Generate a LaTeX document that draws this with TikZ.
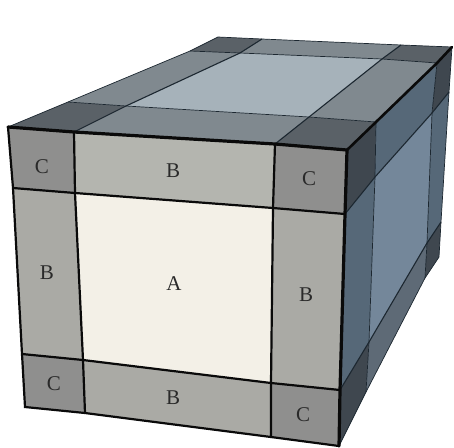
\documentclass[tikz,border=0pt]{standalone}
\usepackage{fontspec}
\setmainfont{Liberation Serif}
\definecolor{ca}{HTML}{F3F0E7}
\definecolor{fb}{HTML}{AAAAA5}
\definecolor{fbt}{HTML}{B4B5AF}
\definecolor{fc}{HTML}{8F8F8E}
\definecolor{ta}{HTML}{A6B2BA}
\definecolor{tb}{HTML}{80898F}
\definecolor{tc}{HTML}{5A6167}
\definecolor{ra}{HTML}{74879A}
\definecolor{rb}{HTML}{566878}
\definecolor{rbb}{HTML}{5E6A76}
\definecolor{rc}{HTML}{3F474F}
\definecolor{ink}{HTML}{0A0A0A}
\definecolor{inkb}{HTML}{1C2730}
\definecolor{txt}{HTML}{2A2A2A}
\tikzset{
  lab/.style={font=\fontsize{21}{21}\selectfont,text=txt,inner sep=0pt},
  heavy/.style={draw=ink,line width=3.2pt,line join=round,line cap=round},
  mid/.style={draw=ink,line width=2.2pt,line cap=round},
  fine/.style={draw=inkb,line width=1.1pt},
  hair/.style={draw=inkb,line width=.7pt}
}
\begin{document}
\begin{tikzpicture}[x=1pt,y=-1pt]
\useasboundingbox (0,0) rectangle (454,447);
% front face
\coordinate (TL) at (8,127); \coordinate (T1) at (74,132); \coordinate (T2) at (275,144); \coordinate (TR) at (347,150);
\coordinate (L1) at (13,188); \coordinate (A1) at (75,193); \coordinate (A2) at (273,208); \coordinate (R1) at (345,214);
\coordinate (L2) at (22,354); \coordinate (A3) at (83,360); \coordinate (A4) at (271,383); \coordinate (R2) at (340,390);
\coordinate (BL) at (25,407); \coordinate (B1) at (85,413); \coordinate (B2) at (271,437); \coordinate (BR) at (339,446);
% top face
\coordinate (P1) at (68,102); \coordinate (P2) at (190,51); \coordinate (AP) at (218,37);
\coordinate (Q1) at (126,106); \coordinate (Q2) at (240,53); \coordinate (Q3) at (262,39);
\coordinate (Q4) at (309,117); \coordinate (Q5) at (382,59); \coordinate (Q6) at (401,45);
\coordinate (S1) at (376,122); \coordinate (S2) at (437,63); \coordinate (BK) at (452,47);
% right face
\coordinate (U1) at (375,177); \coordinate (U2) at (432,113); \coordinate (U3) at (449,92);
\coordinate (V1) at (369,342); \coordinate (V2) at (427,243); \coordinate (V3) at (441,222);
\coordinate (W1) at (366,392); \coordinate (W2) at (425,278); \coordinate (W3) at (439,257);
% top fills
\fill[tc] (TL)--(P1)--(Q1)--(T1)--cycle;
\fill[tb] (P1)--(P2)--(Q2)--(Q1)--cycle;
\fill[tc] (P2)--(AP)--(Q3)--(Q2)--cycle;
\fill[tb] (T1)--(Q1)--(Q4)--(T2)--cycle;
\fill[ta] (Q1)--(Q2)--(Q5)--(Q4)--cycle;
\fill[tb] (Q2)--(Q3)--(Q6)--(Q5)--cycle;
\fill[tc] (T2)--(Q4)--(S1)--(TR)--cycle;
\fill[tb] (Q4)--(Q5)--(S2)--(S1)--cycle;
\fill[tc] (Q5)--(Q6)--(BK)--(S2)--cycle;
% right fills
\fill[rc] (TR)--(S1)--(U1)--(R1)--cycle;
\fill[rb] (S1)--(S2)--(U2)--(U1)--cycle;
\fill[rc] (S2)--(BK)--(U3)--(U2)--cycle;
\fill[rb] (R1)--(U1)--(V1)--(R2)--cycle;
\fill[ra] (U1)--(U2)--(V2)--(V1)--cycle;
\fill[rb] (U2)--(U3)--(V3)--(V2)--cycle;
\fill[rc] (R2)--(V1)--(W1)--(BR)--cycle;
\fill[rbb] (V1)--(V2)--(W2)--(W1)--cycle;
\fill[rc] (V2)--(V3)--(W3)--(W2)--cycle;
% front fills
\fill[fc] (TL)--(T1)--(A1)--(L1)--cycle;
\fill[fbt] (T1)--(T2)--(A2)--(A1)--cycle;
\fill[fc] (T2)--(TR)--(R1)--(A2)--cycle;
\fill[fb] (L1)--(A1)--(A3)--(L2)--cycle;
\fill[ca] (A1)--(A2)--(A4)--(A3)--cycle;
\fill[fb] (A2)--(R1)--(R2)--(A4)--cycle;
\fill[fc] (L2)--(A3)--(B1)--(BL)--cycle;
\fill[fb] (A3)--(A4)--(B2)--(B1)--cycle;
\fill[fc] (A4)--(R2)--(BR)--(B2)--cycle;
% top lines
\draw[fine] (T1)--(Q1)--(Q2)--(Q3);
\draw[fine] (T2)--(Q4)--(Q5)--(Q6);
\draw[hair] (P1)--(Q1)--(Q4)--(S1);
\draw[hair] (P2)--(Q2)--(Q5)--(S2);
\draw[hair] (TL)--(P1)--(P2)--(AP)--(Q3)--(Q6)--(BK);
% right lines
\draw[fine] (R1)--(U1)--(U2)--(U3);
\draw[fine] (R2)--(V1)--(V2)--(V3);
\draw[hair] (S1)--(U1)--(V1)--(W1);
\draw[hair] (S2)--(U2)--(V2)--(W2);
\draw[hair] (BK)--(U3)--(V3)--(W3)--(W2)--(W1)--(BR);
% front lines
\draw[mid] (L1)--(A1)--(A2)--(R1);
\draw[mid] (L2)--(A3)--(A4)--(R2);
\draw[mid] (T1)--(A1)--(A3)--(B1);
\draw[mid] (T2)--(A2)--(A4)--(B2);
\draw[mid] (TL)--(L1)--(L2)--(BL)--(B1)--(B2)--(BR);
\draw[heavy] (TL)--(T1)--(T2)--(TR)--(R1)--(R2)--(BR);
\draw[draw=ink,line width=2.6pt,line cap=round] (TR)--(S1)--(S2)--(BK);
% labels
\node[lab] (c1) at (42,167) {C};
\node[lab] (b1) at (173,171) {B};
\node[lab] (c2) at (309,179) {C};
\node[lab] (b2) at (47,273) {B};
\node[lab] (a) at (174,284) {A};
\node[lab] (b3) at (306,295) {B};
\node[lab] (c3) at (54,384) {C};
\node[lab] (b4) at (173,398) {B};
\node[lab] (c4) at (303,415) {C};
\end{tikzpicture}
\end{document}
